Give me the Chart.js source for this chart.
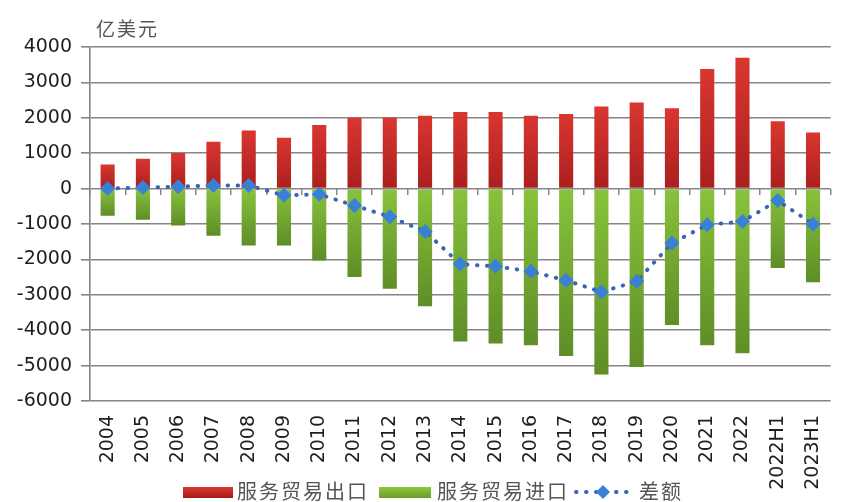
<!DOCTYPE html>
<html>
<head>
<meta charset="utf-8">
<script src="https://cdn.jsdelivr.net/npm/chart.js@4/dist/chart.umd.min.js"></script>
<style>
  html, body { margin: 0; padding: 0; background: #fff; }
  #wrap { position: relative; width: 842px; height: 502px; overflow: hidden; }
  #box { position: absolute; left: 0; top: 0; width: 850px; height: 502px; }
  #unit { position: absolute; left: 96px; top: 14px; font: 19px "Noto Sans CJK SC", sans-serif; letter-spacing: 2px; color: #555; }
  .lg { position: absolute; top: 479px; height: 24px; font: 20px "Noto Sans CJK SC", sans-serif; letter-spacing: 2px; color: #555; line-height: 24px; white-space: nowrap; }
  .sw { position: absolute; top: 487px; height: 11px; }
</style>
</head>
<body>
<div id="wrap">
  <div id="box"><canvas id="c"></canvas></div>
  <div id="unit">亿美元</div>
  <div class="sw" style="left:183px;width:50px;background:linear-gradient(#d8372f,#a31c1c);"></div>
  <div class="lg" style="left:237px;">服务贸易出口</div>
  <div class="sw" style="left:379px;width:52px;background:linear-gradient(#8dc83f,#6b9c2c);"></div>
  <div class="lg" style="left:437px;">服务贸易进口</div>
  <canvas id="lgline" width="62" height="20" style="position:absolute;left:572px;top:482px;"></canvas>
  <div class="lg" style="left:639px;">差额</div>
</div>
<script>
const categories = ['2004','2005','2006','2007','2008','2009','2010','2011','2012','2013','2014','2015','2016','2017','2018','2019','2020','2021','2022','2022H1','2023H1'];
const exportValues = [684, 845, 1006, 1320, 1643, 1434, 1795, 2003, 2003, 2060, 2165, 2165, 2060, 2108, 2316, 2430, 2270, 3382, 3695, 1900, 1587];
const importValues = [-770, -883, -1042, -1333, -1606, -1606, -2028, -2498, -2826, -3324, -4319, -4375, -4423, -4732, -5248, -5042, -3850, -4423, -4648, -2244, -2648];
const balanceValues = [0, 30, 55, 90, 90, -190, -160, -480, -797, -1211, -2132, -2197, -2338, -2592, -2920, -2620, -1540, -1023, -930, -338, -1005];
const seriesNames = ['服务贸易出口', '服务贸易进口', '差额'];
const yTicks = { min: -6000, max: 4000, step: 1000 };

function barGradient(light, dark, fallback) {
  return function (ctx) {
    const chart = ctx.chart;
    if (!chart.chartArea || ctx.type !== 'data') return fallback;
    const y = chart.scales.y;
    const v = ctx.raw;
    const p0 = y.getPixelForValue(0);
    const p1 = y.getPixelForValue(v);
    if (!isFinite(p0) || !isFinite(p1) || p0 === p1) return fallback;
    const g = chart.ctx.createLinearGradient(0, Math.min(p0, p1), 0, Math.max(p0, p1));
    g.addColorStop(0, light); g.addColorStop(1, dark);
    return g;
  };
}

new Chart(document.getElementById('c'), {
  data: {
    labels: categories,
    datasets: [
      {
        type: 'line', label: seriesNames[2], data: balanceValues, order: 0, stack: 'diff',
        borderColor: '#3a64b8', borderWidth: 4, borderCapStyle: 'round', borderDash: [0.5, 9.5],
        pointStyle: 'rectRot', pointRadius: 7.5, pointBackgroundColor: '#3a80d6', pointBorderWidth: 0,
        tension: 0, fill: false
      },
      {
        type: 'bar', label: seriesNames[0], data: exportValues, order: 1, stack: 'trade',
        backgroundColor: barGradient('#da3630', '#aa1f1f', '#cf2e2a'),
        categoryPercentage: 0.4, barPercentage: 1
      },
      {
        type: 'bar', label: seriesNames[1], data: importValues, order: 1, stack: 'trade',
        backgroundColor: barGradient('#88c33c', '#5f8d27', '#7cb336'),
        categoryPercentage: 0.4, barPercentage: 1
      }
    ]
  },
  options: {
    responsive: true, maintainAspectRatio: false, animation: false,
    layout: { padding: { top: 47, right: 3, left: 0, bottom: 0 } },
    plugins: { legend: { display: false }, tooltip: { enabled: false }, title: { display: false } },
    scales: {
      x: {
        type: 'category', stacked: true, position: 'bottom',
        grid: { display: false, drawTicks: false },
        border: { display: false },
        ticks: { minRotation: 90, maxRotation: 90, autoSkip: false, padding: 14, color: '#1e1e1e',
                 font: { family: 'DejaVu Sans', size: 19 } },
        afterFit: (s) => { s.height = 101; }
      },
      x2: {
        type: 'category', position: { y: 0 }, offset: true,
        grid: { display: true, drawOnChartArea: false, drawTicks: true, tickLength: 6, color: '#888', lineWidth: 1.5, offset: true },
        border: { display: false },
        ticks: { display: false }
      },
      y: {
        type: 'linear', stacked: true, min: yTicks.min, max: yTicks.max,
        grid: { color: '#858585', lineWidth: 1.6, tickLength: 9, drawTicks: true },
        border: { display: true, color: '#858585', width: 1.6 },
        ticks: { stepSize: yTicks.step, padding: 9, color: '#1e1e1e', font: { family: 'DejaVu Sans', size: 19 },
                 callback: (v) => String(v) },
        afterFit: (s) => { s.width = 90; }
      }
    }
  }
});

// legend marker for the balance series
(function () {
  const cv = document.getElementById('lgline');
  const g = cv.getContext('2d');
  g.strokeStyle = '#3a64b8'; g.lineWidth = 4; g.lineCap = 'round';
  g.setLineDash([0.5, 9.5]);
  g.beginPath(); g.moveTo(4, 10); g.lineTo(60, 10); g.stroke();
  g.setLineDash([]);
  g.fillStyle = '#3a80d6';
  g.beginPath(); g.moveTo(31, 3); g.lineTo(38, 10); g.lineTo(31, 17); g.lineTo(24, 10); g.closePath(); g.fill();
})();
</script>
</body>
</html>
